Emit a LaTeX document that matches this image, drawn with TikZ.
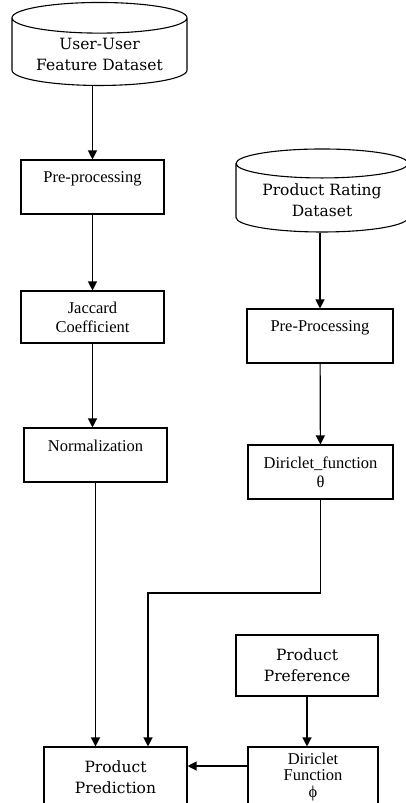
\documentclass[tikz,border=0pt]{standalone}
\usepackage{fontspec}
\setmainfont{Liberation Serif}
\newfontfamily\titlefont{DejaVu Serif}
\usetikzlibrary{shapes.geometric,arrows.meta}
\begin{document}
            \begin{tikzpicture}[x=1pt,y=-1pt,
                    caixa/.style={draw,line width=1.1pt,align=center,font=\fontsize{16.5}{19}\selectfont},
                    titulo/.style={caixa,font=\titlefont\fontsize{15.5}{21}\selectfont},
                    banco/.style={titulo,cylinder,shape border rotate=90,aspect=0.23},
                    seta/.style={line width=1.2pt,-{Triangle[length=9pt,width=9pt]}}]
                \useasboundingbox (0,0) rectangle (406,803);

                % left column
                \node[banco,minimum width=175pt,minimum height=83pt] (A) at (99.5,54) {User-User\\Feature Dataset};
                \node[caixa,minimum width=143pt,minimum height=54pt] (B) at (92.5,187) {Pre-processing\\\mbox{}};
                \node[caixa,minimum width=143pt,minimum height=52pt] (C) at (92.5,317) {Jaccard\\Coefficient};
                \node[caixa,minimum width=143pt,minimum height=54pt] (D) at (95.5,455) {Normalization\\\mbox{}};
                \node[titulo,minimum width=143pt,minimum height=60pt] (E) at (115.5,777) {Product\\Prediction};

                % right column
                \node[banco,minimum width=172pt,minimum height=83pt] (F) at (322,200) {Product Rating\\Dataset};
                \node[caixa,minimum width=146pt,minimum height=54pt] (G) at (320,336) {Pre-Processing\\\mbox{}};
                \node[caixa,minimum width=145pt,minimum height=54pt] (H) at (320.5,472) {Diriclet\_function\\θ};
                \node[titulo,minimum width=142pt,minimum height=61pt] (I) at (307,665.5) {Product\\Preference};
                \node[caixa,minimum width=130pt,minimum height=60pt,font=\fontsize{16.5}{16.5}\selectfont] (J) at (313,777) {Diriclet\\Function\\ϕ};
                \coordinate (K) at (148,593);

                \draw[seta] (B.north |- A.south) -- (B.north);
                \draw[seta] (B) -- (C);
                \draw[seta] (C) -- (C.south |- D.north);
                \draw[seta] (D.south) -- (D.south |- E.north);
                \draw[seta] (F.south -| G.north) -- (G.north);
                \draw[seta] (G) -- (H);
                \draw[seta] (H.south) |- (K) -- (K |- E.north);
                \draw[seta] (I.south) -- (I.south |- J.north);
                \draw[seta] ([yshift=11pt]J.west) -- ([yshift=11pt]J.west -| E.east);
            \end{tikzpicture}
\end{document}
